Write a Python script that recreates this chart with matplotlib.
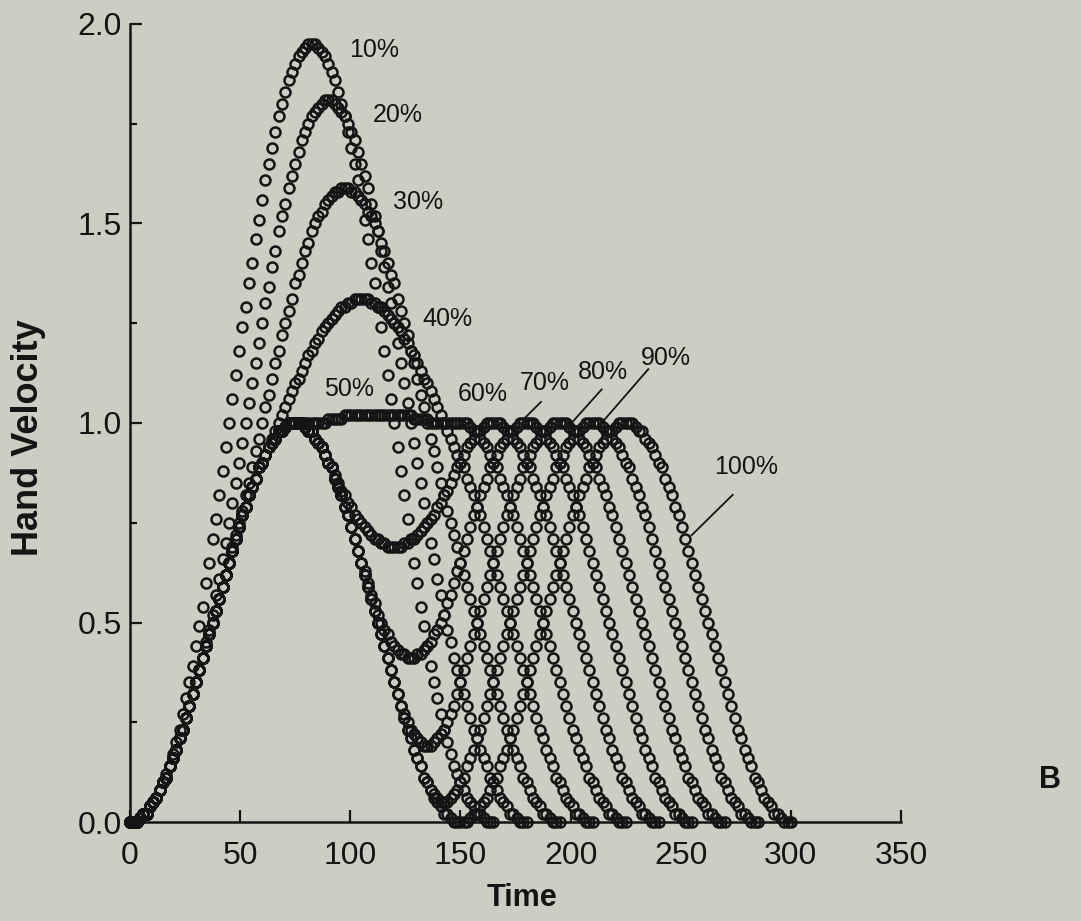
import matplotlib
matplotlib.use("Agg")
import matplotlib.pyplot as plt
from matplotlib.ticker import MultipleLocator, FormatStrFormatter

time_grid = [i * 1.5 for i in range(201)]

v10 = [0.00, 0.00, 0.00, 0.01, 0.02, 0.02, 0.04, 0.05, 0.06, 0.08,
       0.10, 0.12, 0.14, 0.17, 0.20, 0.23, 0.27, 0.31, 0.35, 0.39,
       0.44, 0.49, 0.54, 0.60, 0.65, 0.71, 0.76, 0.82, 0.88, 0.94,
       1.00, 1.06, 1.12, 1.18, 1.24, 1.29, 1.35, 1.40, 1.46, 1.51,
       1.56, 1.61, 1.65, 1.69, 1.73, 1.77, 1.80, 1.83, 1.86, 1.88,
       1.90, 1.92, 1.93, 1.94, 1.95, 1.95, 1.95, 1.94, 1.93, 1.92,
       1.90, 1.88, 1.86, 1.83, 1.80, 1.77, 1.73, 1.69, 1.65, 1.61,
       1.56, 1.51, 1.46, 1.40, 1.35, 1.29, 1.24, 1.18, 1.12, 1.06,
       1.00, 0.94, 0.88, 0.82, 0.76, 0.71, 0.65, 0.60, 0.54, 0.49,
       0.44, 0.39, 0.35, 0.31, 0.27, 0.23, 0.20, 0.17, 0.14, 0.12,
       0.10, 0.08, 0.06, 0.05, 0.04, 0.02, 0.02, 0.01, 0.00, 0.00,
       0.00]

v20 = [0.00, 0.00, 0.00, 0.01, 0.02, 0.02, 0.04, 0.05, 0.06, 0.08,
       0.10, 0.11, 0.14, 0.16, 0.18, 0.21, 0.23, 0.26, 0.29, 0.32,
       0.35, 0.38, 0.41, 0.45, 0.48, 0.52, 0.57, 0.61, 0.66, 0.70,
       0.75, 0.80, 0.85, 0.90, 0.95, 1.00, 1.05, 1.10, 1.15, 1.20,
       1.25, 1.30, 1.34, 1.39, 1.43, 1.48, 1.52, 1.55, 1.59, 1.62,
       1.65, 1.68, 1.71, 1.73, 1.75, 1.77, 1.78, 1.79, 1.80, 1.81,
       1.81, 1.81, 1.80, 1.79, 1.78, 1.77, 1.75, 1.73, 1.71, 1.68,
       1.65, 1.62, 1.59, 1.55, 1.52, 1.48, 1.43, 1.39, 1.34, 1.30,
       1.25, 1.20, 1.15, 1.10, 1.05, 1.00, 0.95, 0.90, 0.85, 0.80,
       0.75, 0.70, 0.66, 0.61, 0.57, 0.52, 0.48, 0.45, 0.41, 0.38,
       0.35, 0.32, 0.29, 0.26, 0.23, 0.21, 0.18, 0.16, 0.14, 0.11,
       0.10, 0.08, 0.06, 0.05, 0.04, 0.02, 0.02, 0.01, 0.00, 0.00,
       0.00]

v30 = [0.00, 0.00, 0.00, 0.01, 0.02, 0.02, 0.04, 0.05, 0.06, 0.08,
       0.10, 0.11, 0.14, 0.16, 0.18, 0.21, 0.23, 0.26, 0.29, 0.32,
       0.35, 0.38, 0.41, 0.44, 0.47, 0.50, 0.53, 0.56, 0.59, 0.62,
       0.65, 0.69, 0.72, 0.75, 0.78, 0.82, 0.85, 0.89, 0.93, 0.96,
       1.00, 1.04, 1.07, 1.11, 1.15, 1.18, 1.22, 1.25, 1.28, 1.31,
       1.35, 1.37, 1.40, 1.43, 1.45, 1.48, 1.50, 1.52, 1.53, 1.55,
       1.56, 1.57, 1.58, 1.58, 1.59, 1.59, 1.59, 1.58, 1.58, 1.57,
       1.56, 1.55, 1.53, 1.52, 1.50, 1.48, 1.45, 1.43, 1.40, 1.37,
       1.35, 1.31, 1.28, 1.25, 1.22, 1.18, 1.15, 1.11, 1.07, 1.04,
       1.00, 0.96, 0.93, 0.89, 0.85, 0.82, 0.78, 0.75, 0.72, 0.69,
       0.65, 0.62, 0.59, 0.56, 0.53, 0.50, 0.47, 0.44, 0.41, 0.38,
       0.35, 0.32, 0.29, 0.26, 0.23, 0.21, 0.18, 0.16, 0.14, 0.11,
       0.10, 0.08, 0.06, 0.05, 0.04, 0.02, 0.02, 0.01, 0.00, 0.00,
       0.00]

v40 = [0.00, 0.00, 0.00, 0.01, 0.02, 0.02, 0.04, 0.05, 0.06, 0.08,
       0.10, 0.11, 0.14, 0.16, 0.18, 0.21, 0.23, 0.26, 0.29, 0.32,
       0.35, 0.38, 0.41, 0.44, 0.47, 0.50, 0.53, 0.56, 0.59, 0.62,
       0.65, 0.68, 0.71, 0.74, 0.77, 0.79, 0.82, 0.84, 0.86, 0.89,
       0.90, 0.92, 0.94, 0.96, 0.98, 1.00, 1.02, 1.04, 1.06, 1.08,
       1.10, 1.11, 1.13, 1.15, 1.17, 1.18, 1.20, 1.21, 1.23, 1.24,
       1.25, 1.26, 1.27, 1.28, 1.29, 1.29, 1.30, 1.30, 1.31, 1.31,
       1.31, 1.31, 1.31, 1.30, 1.30, 1.29, 1.29, 1.28, 1.27, 1.26,
       1.25, 1.24, 1.23, 1.21, 1.20, 1.18, 1.17, 1.15, 1.13, 1.11,
       1.10, 1.08, 1.06, 1.04, 1.02, 1.00, 0.98, 0.96, 0.94, 0.92,
       0.90, 0.89, 0.86, 0.84, 0.82, 0.79, 0.77, 0.74, 0.71, 0.68,
       0.65, 0.62, 0.59, 0.56, 0.53, 0.50, 0.47, 0.44, 0.41, 0.38,
       0.35, 0.32, 0.29, 0.26, 0.23, 0.21, 0.18, 0.16, 0.14, 0.11,
       0.10, 0.08, 0.06, 0.05, 0.04, 0.02, 0.02, 0.01, 0.00, 0.00,
       0.00]

v50 = [0.00, 0.00, 0.00, 0.01, 0.02, 0.02, 0.04, 0.05, 0.06, 0.08,
       0.10, 0.11, 0.14, 0.16, 0.18, 0.21, 0.23, 0.26, 0.29, 0.32,
       0.35, 0.38, 0.41, 0.44, 0.47, 0.50, 0.53, 0.56, 0.59, 0.62,
       0.65, 0.68, 0.71, 0.74, 0.77, 0.79, 0.82, 0.84, 0.86, 0.89,
       0.90, 0.92, 0.94, 0.95, 0.96, 0.98, 0.98, 0.99, 1.00, 1.00,
       1.00, 1.00, 1.00, 1.00, 1.00, 1.00, 1.00, 1.00, 1.00, 1.00,
       1.01, 1.01, 1.01, 1.01, 1.01, 1.02, 1.02, 1.02, 1.02, 1.02,
       1.02, 1.02, 1.02, 1.02, 1.02, 1.02, 1.02, 1.02, 1.02, 1.02,
       1.02, 1.02, 1.02, 1.02, 1.02, 1.02, 1.01, 1.01, 1.01, 1.01,
       1.01, 1.00, 1.00, 1.00, 1.00, 1.00, 1.00, 1.00, 1.00, 1.00,
       1.00, 1.00, 1.00, 0.99, 0.98, 0.98, 0.96, 0.95, 0.94, 0.92,
       0.90, 0.89, 0.86, 0.84, 0.82, 0.79, 0.77, 0.74, 0.71, 0.68,
       0.65, 0.62, 0.59, 0.56, 0.53, 0.50, 0.47, 0.44, 0.41, 0.38,
       0.35, 0.32, 0.29, 0.26, 0.23, 0.21, 0.18, 0.16, 0.14, 0.11,
       0.10, 0.08, 0.06, 0.05, 0.04, 0.02, 0.02, 0.01, 0.00, 0.00,
       0.00]

v60 = [0.00, 0.00, 0.00, 0.01, 0.02, 0.02, 0.04, 0.05, 0.06, 0.08,
       0.10, 0.11, 0.14, 0.16, 0.18, 0.21, 0.23, 0.26, 0.29, 0.32,
       0.35, 0.38, 0.41, 0.44, 0.47, 0.50, 0.53, 0.56, 0.59, 0.62,
       0.65, 0.68, 0.71, 0.74, 0.77, 0.79, 0.82, 0.84, 0.86, 0.89,
       0.90, 0.92, 0.94, 0.95, 0.96, 0.98, 0.98, 0.99, 1.00, 1.00,
       1.00, 1.00, 1.00, 0.99, 0.98, 0.98, 0.96, 0.95, 0.94, 0.92,
       0.90, 0.89, 0.87, 0.85, 0.83, 0.82, 0.80, 0.79, 0.77, 0.76,
       0.75, 0.74, 0.73, 0.72, 0.71, 0.71, 0.70, 0.70, 0.69, 0.69,
       0.69, 0.69, 0.69, 0.70, 0.70, 0.71, 0.71, 0.72, 0.73, 0.74,
       0.75, 0.76, 0.77, 0.79, 0.80, 0.82, 0.83, 0.85, 0.87, 0.89,
       0.90, 0.92, 0.94, 0.95, 0.96, 0.98, 0.98, 0.99, 1.00, 1.00,
       1.00, 1.00, 1.00, 0.99, 0.98, 0.98, 0.96, 0.95, 0.94, 0.92,
       0.90, 0.89, 0.86, 0.84, 0.82, 0.79, 0.77, 0.74, 0.71, 0.68,
       0.65, 0.62, 0.59, 0.56, 0.53, 0.50, 0.47, 0.44, 0.41, 0.38,
       0.35, 0.32, 0.29, 0.26, 0.23, 0.21, 0.18, 0.16, 0.14, 0.11,
       0.10, 0.08, 0.06, 0.05, 0.04, 0.02, 0.02, 0.01, 0.00, 0.00,
       0.00]

v70 = [0.00, 0.00, 0.00, 0.01, 0.02, 0.02, 0.04, 0.05, 0.06, 0.08,
       0.10, 0.11, 0.14, 0.16, 0.18, 0.21, 0.23, 0.26, 0.29, 0.32,
       0.35, 0.38, 0.41, 0.44, 0.47, 0.50, 0.53, 0.56, 0.59, 0.62,
       0.65, 0.68, 0.71, 0.74, 0.77, 0.79, 0.82, 0.84, 0.86, 0.89,
       0.90, 0.92, 0.94, 0.95, 0.96, 0.98, 0.98, 0.99, 1.00, 1.00,
       1.00, 1.00, 1.00, 0.99, 0.98, 0.98, 0.96, 0.95, 0.94, 0.92,
       0.90, 0.89, 0.86, 0.84, 0.82, 0.79, 0.77, 0.74, 0.71, 0.68,
       0.65, 0.63, 0.60, 0.57, 0.55, 0.52, 0.50, 0.48, 0.47, 0.45,
       0.44, 0.43, 0.42, 0.42, 0.41, 0.41, 0.41, 0.42, 0.42, 0.43,
       0.44, 0.45, 0.47, 0.48, 0.50, 0.52, 0.55, 0.57, 0.60, 0.63,
       0.65, 0.68, 0.71, 0.74, 0.77, 0.79, 0.82, 0.84, 0.86, 0.89,
       0.90, 0.92, 0.94, 0.95, 0.96, 0.98, 0.98, 0.99, 1.00, 1.00,
       1.00, 1.00, 1.00, 0.99, 0.98, 0.98, 0.96, 0.95, 0.94, 0.92,
       0.90, 0.89, 0.86, 0.84, 0.82, 0.79, 0.77, 0.74, 0.71, 0.68,
       0.65, 0.62, 0.59, 0.56, 0.53, 0.50, 0.47, 0.44, 0.41, 0.38,
       0.35, 0.32, 0.29, 0.26, 0.23, 0.21, 0.18, 0.16, 0.14, 0.11,
       0.10, 0.08, 0.06, 0.05, 0.04, 0.02, 0.02, 0.01, 0.00, 0.00,
       0.00]

v80 = [0.00, 0.00, 0.00, 0.01, 0.02, 0.02, 0.04, 0.05, 0.06, 0.08,
       0.10, 0.11, 0.14, 0.16, 0.18, 0.21, 0.23, 0.26, 0.29, 0.32,
       0.35, 0.38, 0.41, 0.44, 0.47, 0.50, 0.53, 0.56, 0.59, 0.62,
       0.65, 0.68, 0.71, 0.74, 0.77, 0.79, 0.82, 0.84, 0.86, 0.89,
       0.90, 0.92, 0.94, 0.95, 0.96, 0.98, 0.98, 0.99, 1.00, 1.00,
       1.00, 1.00, 1.00, 0.99, 0.98, 0.98, 0.96, 0.95, 0.94, 0.92,
       0.90, 0.89, 0.86, 0.84, 0.82, 0.79, 0.77, 0.74, 0.71, 0.68,
       0.65, 0.62, 0.59, 0.56, 0.53, 0.50, 0.47, 0.44, 0.41, 0.38,
       0.35, 0.32, 0.29, 0.27, 0.25, 0.23, 0.22, 0.21, 0.20, 0.19,
       0.19, 0.19, 0.20, 0.21, 0.22, 0.23, 0.25, 0.27, 0.29, 0.32,
       0.35, 0.38, 0.41, 0.44, 0.47, 0.50, 0.53, 0.56, 0.59, 0.62,
       0.65, 0.68, 0.71, 0.74, 0.77, 0.79, 0.82, 0.84, 0.86, 0.89,
       0.90, 0.92, 0.94, 0.95, 0.96, 0.98, 0.98, 0.99, 1.00, 1.00,
       1.00, 1.00, 1.00, 0.99, 0.98, 0.98, 0.96, 0.95, 0.94, 0.92,
       0.90, 0.89, 0.86, 0.84, 0.82, 0.79, 0.77, 0.74, 0.71, 0.68,
       0.65, 0.62, 0.59, 0.56, 0.53, 0.50, 0.47, 0.44, 0.41, 0.38,
       0.35, 0.32, 0.29, 0.26, 0.23, 0.21, 0.18, 0.16, 0.14, 0.11,
       0.10, 0.08, 0.06, 0.05, 0.04, 0.02, 0.02, 0.01, 0.00, 0.00,
       0.00]

v90 = [0.00, 0.00, 0.00, 0.01, 0.02, 0.02, 0.04, 0.05, 0.06, 0.08,
       0.10, 0.11, 0.14, 0.16, 0.18, 0.21, 0.23, 0.26, 0.29, 0.32,
       0.35, 0.38, 0.41, 0.44, 0.47, 0.50, 0.53, 0.56, 0.59, 0.62,
       0.65, 0.68, 0.71, 0.74, 0.77, 0.79, 0.82, 0.84, 0.86, 0.89,
       0.90, 0.92, 0.94, 0.95, 0.96, 0.98, 0.98, 0.99, 1.00, 1.00,
       1.00, 1.00, 1.00, 0.99, 0.98, 0.98, 0.96, 0.95, 0.94, 0.92,
       0.90, 0.89, 0.86, 0.84, 0.82, 0.79, 0.77, 0.74, 0.71, 0.68,
       0.65, 0.62, 0.59, 0.56, 0.53, 0.50, 0.47, 0.44, 0.41, 0.38,
       0.35, 0.32, 0.29, 0.26, 0.23, 0.21, 0.18, 0.16, 0.14, 0.11,
       0.10, 0.08, 0.07, 0.06, 0.05, 0.05, 0.05, 0.06, 0.07, 0.08,
       0.10, 0.11, 0.14, 0.16, 0.18, 0.21, 0.23, 0.26, 0.29, 0.32,
       0.35, 0.38, 0.41, 0.44, 0.47, 0.50, 0.53, 0.56, 0.59, 0.62,
       0.65, 0.68, 0.71, 0.74, 0.77, 0.79, 0.82, 0.84, 0.86, 0.89,
       0.90, 0.92, 0.94, 0.95, 0.96, 0.98, 0.98, 0.99, 1.00, 1.00,
       1.00, 1.00, 1.00, 0.99, 0.98, 0.98, 0.96, 0.95, 0.94, 0.92,
       0.90, 0.89, 0.86, 0.84, 0.82, 0.79, 0.77, 0.74, 0.71, 0.68,
       0.65, 0.62, 0.59, 0.56, 0.53, 0.50, 0.47, 0.44, 0.41, 0.38,
       0.35, 0.32, 0.29, 0.26, 0.23, 0.21, 0.18, 0.16, 0.14, 0.11,
       0.10, 0.08, 0.06, 0.05, 0.04, 0.02, 0.02, 0.01, 0.00, 0.00,
       0.00]

v100 = [0.00, 0.00, 0.00, 0.01, 0.02, 0.02, 0.04, 0.05, 0.06, 0.08,
        0.10, 0.11, 0.14, 0.16, 0.18, 0.21, 0.23, 0.26, 0.29, 0.32,
        0.35, 0.38, 0.41, 0.44, 0.47, 0.50, 0.53, 0.56, 0.59, 0.62,
        0.65, 0.68, 0.71, 0.74, 0.77, 0.79, 0.82, 0.84, 0.86, 0.89,
        0.90, 0.92, 0.94, 0.95, 0.96, 0.98, 0.98, 0.99, 1.00, 1.00,
        1.00, 1.00, 1.00, 0.99, 0.98, 0.98, 0.96, 0.95, 0.94, 0.92,
        0.90, 0.89, 0.86, 0.84, 0.82, 0.79, 0.77, 0.74, 0.71, 0.68,
        0.65, 0.62, 0.59, 0.56, 0.53, 0.50, 0.47, 0.44, 0.41, 0.38,
        0.35, 0.32, 0.29, 0.26, 0.23, 0.21, 0.18, 0.16, 0.14, 0.11,
        0.10, 0.08, 0.06, 0.05, 0.04, 0.02, 0.02, 0.01, 0.00, 0.00,
        0.00, 0.00, 0.00, 0.01, 0.02, 0.02, 0.04, 0.05, 0.06, 0.08,
        0.10, 0.11, 0.14, 0.16, 0.18, 0.21, 0.23, 0.26, 0.29, 0.32,
        0.35, 0.38, 0.41, 0.44, 0.47, 0.50, 0.53, 0.56, 0.59, 0.62,
        0.65, 0.68, 0.71, 0.74, 0.77, 0.79, 0.82, 0.84, 0.86, 0.89,
        0.90, 0.92, 0.94, 0.95, 0.96, 0.98, 0.98, 0.99, 1.00, 1.00,
        1.00, 1.00, 1.00, 0.99, 0.98, 0.98, 0.96, 0.95, 0.94, 0.92,
        0.90, 0.89, 0.86, 0.84, 0.82, 0.79, 0.77, 0.74, 0.71, 0.68,
        0.65, 0.62, 0.59, 0.56, 0.53, 0.50, 0.47, 0.44, 0.41, 0.38,
        0.35, 0.32, 0.29, 0.26, 0.23, 0.21, 0.18, 0.16, 0.14, 0.11,
        0.10, 0.08, 0.06, 0.05, 0.04, 0.02, 0.02, 0.01, 0.00, 0.00,
        0.00]

series = [v10, v20, v30, v40, v50, v60, v70, v80, v90, v100]
curve_labels = ["10%", "20%", "30%", "40%", "50%", "60%", "70%", "80%", "90%", "100%"]

# label anchor points (time, velocity) and leader lines
label_pos = [(110.8, 1.935), (121.4, 1.772), (130.7, 1.554), (144.3, 1.261),
             (99.4, 1.085), (160.2, 1.073), (188.4, 1.100), (214.7, 1.128),
             (243.3, 1.163), (279.8, 0.890)]
leaders = {"70%": ((186.6, 1.053), (178.4, 1.008)),
           "80%": ((214.1, 1.084), (197.5, 0.982)),
           "90%": ((235.3, 1.135), (213.3, 0.995)),
           "100%": ((273.6, 0.820), (255.0, 0.719))}

x_ticks = [0, 50, 100, 150, 200, 250, 300, 350]
y_ticks = [0.0, 0.5, 1.0, 1.5, 2.0]

# ---------------- styling ----------------
BG = "#cdcec3"
INK = "#141414"

fig = plt.figure(figsize=(10.81, 9.21), dpi=100, facecolor=BG)
ax = fig.add_axes([130 / 1081, 1 - 822 / 921, 771 / 1081, 798 / 921])
ax.set_facecolor(BG)

for v in series:
    ax.plot(time_grid[:len(v)], v, linestyle="none", marker="o", ms=7.2,
            mfc="none", mec=INK, mew=1.8, clip_on=False, zorder=3)

ax.set_xlim(0, 350)
ax.set_ylim(0, 2.0)
ax.set_xticks(x_ticks)
ax.set_yticks(y_ticks)
ax.yaxis.set_minor_locator(MultipleLocator(0.25))
ax.yaxis.set_major_formatter(FormatStrFormatter("%.1f"))

for s in ("top", "right"):
    ax.spines[s].set_visible(False)
for s in ("left", "bottom"):
    ax.spines[s].set_linewidth(1.8)
    ax.spines[s].set_color(INK)

ax.tick_params(axis="both", which="major", direction="in", length=8.6,
               width=1.6, color=INK)
ax.tick_params(axis="y", which="minor", direction="in", length=5,
               width=1.6, color=INK)
ax.tick_params(axis="x", pad=14)
ax.tick_params(axis="y", pad=6)

for lab in ax.get_xticklabels():
    lab.set_fontfamily(["Liberation Sans", "DejaVu Sans"])
    lab.set_fontsize(23)
    lab.set_color(INK)
for lab in ax.get_yticklabels():
    lab.set_fontfamily(["Liberation Sans", "DejaVu Sans"])
    lab.set_fontsize(23)
    lab.set_color(INK)

for name, (tx, ty) in zip(curve_labels, label_pos):
    ax.text(tx, ty, name, ha="center", va="center", fontsize=18,
            family=["Liberation Sans", "DejaVu Sans"], color=INK, zorder=4)
    if name in leaders:
        (x1, y1), (x2, y2) = leaders[name]
        ax.plot([x1, x2], [y1, y2], color=INK, lw=1.3, zorder=4)

fig.text(29 / 1081, 1 - 438 / 921, "Hand Velocity", rotation=90, ha="center",
         va="center", fontsize=26, fontweight="bold",
         family=["Liberation Sans", "DejaVu Sans"], color=INK)
fig.text(522 / 1081, 1 - 898 / 921, "Time", ha="center", va="center",
         fontsize=22, fontweight="bold",
         family=["Liberation Sans", "DejaVu Sans"], color=INK)
fig.text(1050 / 1081, 1 - 780 / 921, "B", ha="center", va="center",
         fontsize=22, fontweight="bold",
         family=["Liberation Sans", "DejaVu Sans"], color=INK)

fig.savefig("out.png", dpi=100, facecolor=BG)
